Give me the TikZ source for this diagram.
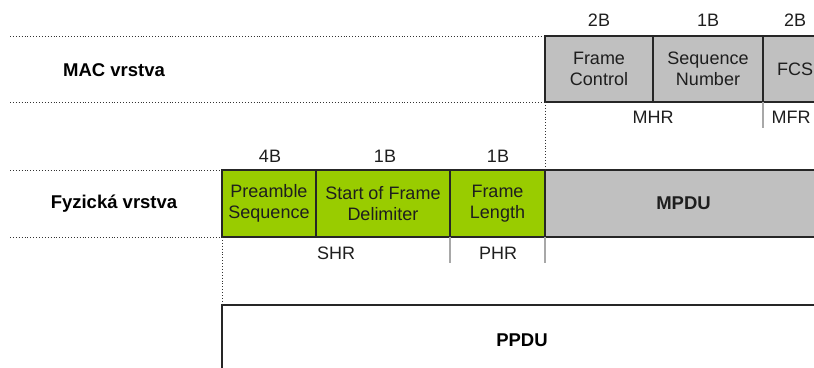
\documentclass[tikz,border=0pt]{standalone}
\usepackage{fontspec}
\setmainfont{Liberation Sans}
\definecolor{boxgray}{HTML}{C0C0C0}
\definecolor{boxgreen}{HTML}{99CC00}
\definecolor{sepgray}{HTML}{A8A8A8}
\definecolor{txt}{HTML}{1E1E1E}
\begin{document}
\begin{tikzpicture}[x=1pt,y=-1pt,
  field/.style={draw=black!85, line width=1.3pt, anchor=north west, inner sep=0pt, outer sep=0pt,
    align=center, font=\fontsize{18}{21.5}\selectfont, text=txt, minimum height=66pt},
  graybox/.style={field, fill=boxgray},
  greenbox/.style={field, fill=boxgreen},
  lbl/.style={font=\fontsize{18}{21.5}\selectfont, text=txt, inner sep=0pt},
  layer/.style={font=\bfseries\fontsize{18.5}{22}\selectfont, inner sep=0pt},
  guide/.style={dotted, line width=0.9pt, black!80},
  sep/.style={sepgray, line width=1.3pt}]
\useasboundingbox (0,0) rectangle (814,367);
% MAC layer
\coordinate (m1a) at (10,36); \coordinate (m1b) at (545,36);
\coordinate (m2a) at (10,102); \coordinate (m2b) at (545,102);
\draw[guide] (m1a) -- (m1b);
\draw[guide] (m2a) -- (m2b);
\node[layer] (mac) at (114,70) {MAC vrstva};
\node[graybox, minimum width=108pt] (fc) at (545,36) {Frame\\Control};
\node[graybox, minimum width=110pt] (sn) at (653,36) {Sequence\\Number};
\node[graybox, minimum width=66pt] (fcs) at (763,36) {\hspace*{-2pt}FCS};
\node[lbl] (b2a) at (599,20) {2B};
\node[lbl] (b1a) at (708,20) {1B};
\node[lbl] (b2b) at (795,20) {2B};
\node[lbl] (mhr) at (653,117) {MHR};
\node[lbl] (mfr) at (791,117) {MFR};
\draw[sep] (fcs.south west) -- ++(0,26) coordinate (mfrs);
% physical layer
\coordinate (p1a) at (10,170); \coordinate (p1b) at (222,170);
\coordinate (p2a) at (10,237); \coordinate (p2b) at (222,237);
\draw[guide] (p1a) -- (p1b);
\draw[guide] (p2a) -- (p2b);
\node[layer] (phy) at (114,204) {Fyzická vrstva};
\node[greenbox, minimum width=94pt, minimum height=67pt] (pre) at (222,170) {Preamble\\Sequence};
\node[greenbox, minimum width=134pt, minimum height=67pt] (sfd) at (316,170) {Start of Frame\\Delimiter};
\node[greenbox, minimum width=95pt, minimum height=67pt] (fl) at (450,170) {Frame\\Length};
\node[graybox, minimum width=277pt, minimum height=67pt, font=\bfseries\fontsize{18.5}{22}\selectfont] (mpdu) at (545,170) {MPDU};
\node[lbl] (b4) at (270,156) {4B};
\node[lbl] (b1b) at (385,156) {1B};
\node[lbl] (b1c) at (498,156) {1B};
\node[lbl] (shr) at (336,253) {SHR};
\node[lbl] (phr) at (498,253) {PHR};
\draw[sep] (fl.south west) -- ++(0,26) coordinate (phrl);
\draw[sep] (fl.south east) -- ++(0,26) coordinate (phrr);
\draw[guide] (fc.south west) -- (mpdu.north west);
% PPDU
\node[draw=black!85, line width=1.3pt, anchor=north west, outer sep=0pt, minimum width=600pt, minimum height=80pt,
  inner sep=0pt] (ppdu) at (222,305) {};
\draw[guide] (pre.south west) -- (ppdu.north west);
\node[layer] (ppdut) at (522,340) {PPDU};
\end{tikzpicture}
\end{document}
